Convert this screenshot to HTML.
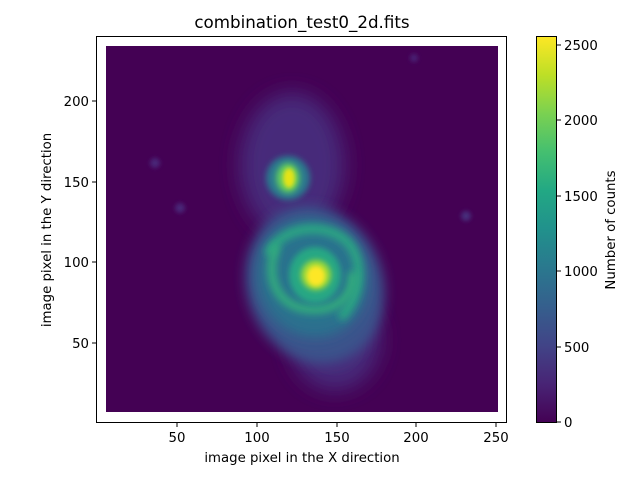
<!DOCTYPE html>
<html><head><meta charset="utf-8"><style>
body{margin:0;background:#fff;}
svg{display:block;font-family:"DejaVu Sans","Liberation Sans",sans-serif;}
</style></head><body>
<svg width="640" height="480" viewBox="0 0 640 480" xmlns="http://www.w3.org/2000/svg">
<defs>
<linearGradient id="vir" x1="0" y1="1" x2="0" y2="0">
<stop offset="0" stop-color="#440154"/><stop offset="0.1" stop-color="#482475"/>
<stop offset="0.2" stop-color="#414487"/><stop offset="0.3" stop-color="#355f8d"/>
<stop offset="0.4" stop-color="#2a788e"/><stop offset="0.5" stop-color="#21918c"/>
<stop offset="0.6" stop-color="#22a884"/><stop offset="0.7" stop-color="#44bf70"/>
<stop offset="0.8" stop-color="#7ad151"/><stop offset="0.9" stop-color="#bddf26"/>
<stop offset="1" stop-color="#fde725"/></linearGradient>
<filter id="b10" x="-50%" y="-50%" width="200%" height="200%"><feGaussianBlur stdDeviation="10"/></filter>
<filter id="b6" x="-50%" y="-50%" width="200%" height="200%"><feGaussianBlur stdDeviation="6"/></filter>
<filter id="b4" x="-50%" y="-50%" width="200%" height="200%"><feGaussianBlur stdDeviation="4"/></filter>
<filter id="b3" x="-50%" y="-50%" width="200%" height="200%"><feGaussianBlur stdDeviation="3"/></filter>
<filter id="b2" x="-50%" y="-50%" width="200%" height="200%"><feGaussianBlur stdDeviation="2"/></filter>
<clipPath id="cl"><rect x="106" y="46" width="392" height="366"/></clipPath>
</defs>
<text x="302" y="28" font-size="16.7" text-anchor="middle">combination_test0_2d.fits</text>
<rect x="106" y="46" width="392" height="366" fill="#440154"/>
<g clip-path="url(#cl)">
<ellipse cx="292" cy="165" rx="52" ry="72" fill="#472a7a" filter="url(#b10)"/>
<ellipse cx="335" cy="340" rx="45" ry="50" fill="#472c7a" filter="url(#b10)"/>
<ellipse cx="315" cy="285" rx="68" ry="80" transform="rotate(-20 315 285)" fill="#3b528b" filter="url(#b6)"/>
<ellipse cx="312" cy="278" rx="55" ry="60" transform="rotate(-20 312 278)" fill="#2c718e" filter="url(#b6)"/>
<path d="M268 255 C 280 225, 330 220, 350 245 C 365 265, 360 300, 340 318" fill="none" stroke="#2aa882" stroke-width="9" filter="url(#b4)"/>
<path d="M352 272 C 355 300, 330 315, 300 308 C 275 300, 265 275, 277 245" fill="none" stroke="#33b07c" stroke-width="8" filter="url(#b4)"/>
<ellipse cx="315" cy="275" rx="26" ry="28" fill="#26a784" filter="url(#b3)"/>
<ellipse cx="316" cy="275" rx="15" ry="15" fill="#a0da39" filter="url(#b3)"/>
<ellipse cx="316" cy="276" rx="9" ry="10" fill="#fde725" filter="url(#b2)"/>
<ellipse cx="288" cy="178" rx="22" ry="22" fill="#2a788e" filter="url(#b3)"/>
<ellipse cx="288" cy="178" rx="12" ry="15" fill="#5ec962" filter="url(#b3)"/>
<ellipse cx="289" cy="178" rx="6" ry="10" fill="#e5e419" filter="url(#b2)"/>
<circle cx="155" cy="163" r="5" fill="#482878" filter="url(#b2)"/>
<circle cx="180" cy="208" r="5" fill="#482878" filter="url(#b2)"/>
<circle cx="466" cy="216" r="5" fill="#472d7b" filter="url(#b2)"/>
<circle cx="414" cy="58" r="4" fill="#482475" filter="url(#b2)"/>
</g>
<rect x="96.5" y="36.5" width="410" height="386" fill="none" stroke="#000" stroke-width="1"/>
<g stroke="#000" stroke-width="1">
<line x1="177" y1="423" x2="177" y2="427"/><line x1="257" y1="423" x2="257" y2="427"/>
<line x1="337" y1="423" x2="337" y2="427"/><line x1="416" y1="423" x2="416" y2="427"/>
<line x1="496" y1="423" x2="496" y2="427"/>
<line x1="92" y1="101" x2="96" y2="101"/><line x1="92" y1="182" x2="96" y2="182"/>
<line x1="92" y1="262" x2="96" y2="262"/><line x1="92" y1="343" x2="96" y2="343"/>
</g>
<g font-size="13.3" text-anchor="middle">
<text x="177" y="442">50</text><text x="257" y="442">100</text><text x="337" y="442">150</text>
<text x="416" y="442">200</text><text x="496" y="442">250</text>
<text x="302" y="462">image pixel in the X direction</text>
</g>
<g font-size="13.3" text-anchor="end">
<text x="89" y="106">200</text><text x="89" y="187">150</text><text x="89" y="267">100</text><text x="89" y="348">50</text>
</g>
<text transform="translate(51,230) rotate(-90)" font-size="13.3" text-anchor="middle">image pixel in the Y direction</text>
<rect x="536.5" y="36.5" width="20" height="386" fill="url(#vir)" stroke="#000" stroke-width="1"/>
<g stroke="#000"><line x1="557" y1="422" x2="561" y2="422"/><line x1="557" y1="347" x2="561" y2="347"/>
<line x1="557" y1="271" x2="561" y2="271"/><line x1="557" y1="196" x2="561" y2="196"/>
<line x1="557" y1="120" x2="561" y2="120"/><line x1="557" y1="45" x2="561" y2="45"/></g>
<g font-size="13.3"><text x="564" y="427">0</text><text x="564" y="352">500</text><text x="564" y="276">1000</text>
<text x="564" y="201">1500</text><text x="564" y="125">2000</text><text x="564" y="50">2500</text></g>
<text transform="translate(615,230) rotate(-90)" font-size="13.3" text-anchor="middle">Number of counts</text>
</svg>
</body></html>
